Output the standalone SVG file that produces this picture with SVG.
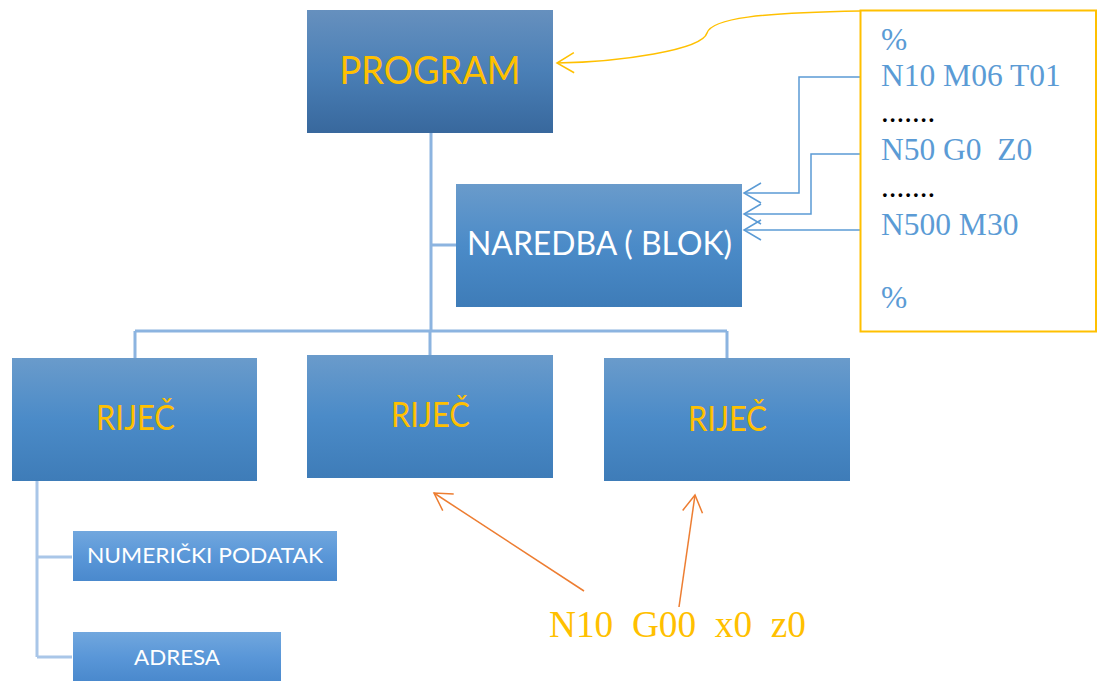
<svg xmlns="http://www.w3.org/2000/svg" width="1104" height="681" viewBox="0 0 1104 681">
<defs>
<linearGradient id="gDark" x1="0" y1="0" x2="0" y2="1">
<stop offset="0" stop-color="#6690be"/><stop offset="0.5" stop-color="#4a7fb6"/><stop offset="1" stop-color="#38689d"/>
</linearGradient>
<linearGradient id="gMid" x1="0" y1="0" x2="0" y2="1">
<stop offset="0" stop-color="#6a9bcb"/><stop offset="0.5" stop-color="#4b8bc8"/><stop offset="1" stop-color="#3e7cb8"/>
</linearGradient>
<linearGradient id="gLight" x1="0" y1="0" x2="0" y2="1">
<stop offset="0" stop-color="#71a7de"/><stop offset="0.5" stop-color="#5a97d8"/><stop offset="1" stop-color="#4a89cd"/>
</linearGradient>
<marker id="aBlue" markerWidth="20" markerHeight="24" refX="18" refY="12" orient="auto" markerUnits="userSpaceOnUse" overflow="visible">
<path d="M1,2 L18,12 L1,22" fill="none" stroke="#5b9bd5" stroke-width="1.5"/>
</marker>
<marker id="aYellow" markerWidth="20" markerHeight="24" refX="18" refY="12" orient="auto" markerUnits="userSpaceOnUse" overflow="visible">
<path d="M1,2 L18,12 L1,22" fill="none" stroke="#ffc000" stroke-width="1.5"/>
</marker>
<marker id="aOrange" markerWidth="20" markerHeight="24" refX="18" refY="12" orient="auto" markerUnits="userSpaceOnUse" overflow="visible">
<path d="M1,2 L18,12 L1,22" fill="none" stroke="#ed7d31" stroke-width="1.5"/>
</marker>
</defs>
<style>
.tree{fill:none;stroke:#8cb4e0;stroke-width:3}
.tree2{fill:none;stroke:#a9c6e8;stroke-width:3}
.bl{fill:none;stroke:#5b9bd5;stroke-width:1.5}
.sans{font-family:Lato,"Open Sans","Liberation Sans",sans-serif}
.serif{font-family:"Liberation Serif","Times New Roman",serif}
.yel{fill:#ffc000}
.wht{fill:#ffffff}
.code{fill:#5b9bd5;font-size:31.5px}
</style>
<g id="connectors">
<path class="tree" d="M431,133 V331 M431,245 H456 M135,331 H727 M135,331 V358 M430,331 V355 M727,331 V358"/>
<path class="tree2" d="M37,481 V657 M37,557 H72 M37,657 H72"/>
<path class="bl" d="M860,77 H799 V193 H744" marker-end="url(#aBlue)"/>
<path class="bl" d="M860,154 H811 V214 H744" marker-end="url(#aBlue)"/>
<path class="bl" d="M860,230 H744" marker-end="url(#aBlue)"/>
<path fill="none" stroke="#ffc000" stroke-width="1.5" d="M860,11 C760,13 712,18 707,33 C702,50 620,62 557,63" marker-end="url(#aYellow)"/>
<path fill="none" stroke="#ed7d31" stroke-width="1.5" d="M584,591 L434,493" marker-end="url(#aOrange)"/>
<path fill="none" stroke="#ed7d31" stroke-width="1.5" d="M679,607 L695,495" marker-end="url(#aOrange)"/>
</g>
<g id="program">
<rect x="307" y="10" width="246" height="123" fill="url(#gDark)"/>
<text class="sans yel" x="430" y="84" font-size="38" text-anchor="middle" textLength="181" lengthAdjust="spacingAndGlyphs">PROGRAM</text>
</g>
<g id="naredba">
<rect x="456" y="184" width="286" height="123" fill="url(#gMid)"/>
<text class="sans wht" x="599.5" y="255" font-size="32" text-anchor="middle" textLength="265" lengthAdjust="spacingAndGlyphs">NAREDBA ( BLOK)</text>
</g>
<g id="rijec1">
<rect x="12" y="358" width="245" height="123" fill="url(#gMid)"/>
<text class="sans yel" x="135.5" y="430" font-size="34" text-anchor="middle" textLength="79" lengthAdjust="spacingAndGlyphs">RIJEČ</text>
</g>
<g id="rijec2">
<rect x="307" y="355" width="246" height="123" fill="url(#gMid)"/>
<text class="sans yel" x="430.5" y="427" font-size="34" text-anchor="middle" textLength="79" lengthAdjust="spacingAndGlyphs">RIJEČ</text>
</g>
<g id="rijec3">
<rect x="604" y="358" width="246" height="123" fill="url(#gMid)"/>
<text class="sans yel" x="727.5" y="431" font-size="34" text-anchor="middle" textLength="79" lengthAdjust="spacingAndGlyphs">RIJEČ</text>
</g>
<g id="numericki">
<rect x="73" y="531" width="264" height="50" fill="url(#gLight)"/>
<text class="sans wht" x="205" y="563" font-size="21" text-anchor="middle" textLength="236" lengthAdjust="spacingAndGlyphs">NUMERIČKI PODATAK</text>
</g>
<g id="adresa">
<rect x="73" y="632" width="208" height="49" fill="url(#gLight)"/>
<text class="sans wht" x="177" y="665" font-size="21" text-anchor="middle" textLength="86" lengthAdjust="spacingAndGlyphs">ADRESA</text>
</g>
<g id="kod">
<rect x="860.5" y="10.5" width="235.5" height="321" fill="#ffffff" stroke="#ffc000" stroke-width="2"/>
<text class="serif code" x="881" y="50">%</text>
<text class="serif code" x="881" y="86">N10 M06 T01</text>
<text class="serif" x="881" y="122" font-size="31" fill="#000000">.......</text>
<text class="serif code" x="881" y="160" xml:space="preserve">N50 G0  Z0</text>
<text class="serif" x="881" y="197" font-size="31" fill="#000000">.......</text>
<text class="serif code" x="881" y="235">N500 M30</text>
<text class="serif code" x="881" y="308">%</text>
</g>
<g id="primjer">
<text class="serif yel" x="549" y="637" font-size="37.3" xml:space="preserve">N10  G00  x0  z0</text>
</g>
</svg>
